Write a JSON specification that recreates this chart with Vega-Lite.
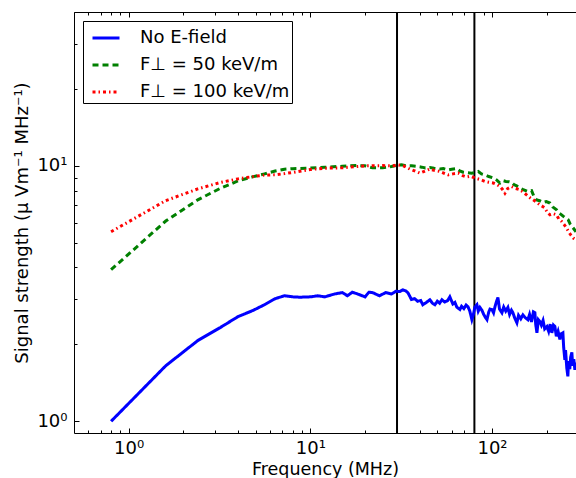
{
  "$schema": "https://vega.github.io/schema/vega-lite/v6.json",
  "width": 502,
  "height": 421,
  "autosize": {"type": "none"},
  "padding": {"left": 74, "top": 12, "right": 0, "bottom": 45},
  "config": {
    "font": "DejaVu Sans",
    "view": {"stroke": null},
    "axis": {"grid": false, "domainColor": "#000000", "tickColor": "#000000", "labelColor": "#000000", "titleColor": "#000000", "labelFontSize": 18, "titleFontSize": 18, "titleFontWeight": "normal", "labelFont": "DejaVu Sans", "titleFont": "DejaVu Sans", "tickWidth": 1, "domainWidth": 1}
  },
  "data": {"values": [
    {"f":0.8,"s":1.0,"c":"No E-field"},{"f":1.6,"s":1.65,"c":"No E-field"},{"f":2.4,"s":2.07,"c":"No E-field"},{"f":3.2,"s":2.33,"c":"No E-field"},{"f":4.0,"s":2.57,"c":"No E-field"},{"f":4.8,"s":2.71,"c":"No E-field"},{"f":5.6,"s":2.86,"c":"No E-field"},{"f":6.4,"s":3.02,"c":"No E-field"},{"f":7.2,"s":3.1,"c":"No E-field"},{"f":8.0,"s":3.07,"c":"No E-field"},{"f":8.8,"s":3.06,"c":"No E-field"},{"f":10,"s":3.07,"c":"No E-field"},{"f":11,"s":3.1,"c":"No E-field"},{"f":12,"s":3.07,"c":"No E-field"},{"f":13.6,"s":3.15,"c":"No E-field"},{"f":15,"s":3.19,"c":"No E-field"},{"f":16,"s":3.1,"c":"No E-field"},{"f":17,"s":3.2,"c":"No E-field"},{"f":18,"s":3.16,"c":"No E-field"},{"f":20,"s":3.07,"c":"No E-field"},{"f":21,"s":3.2,"c":"No E-field"},{"f":22,"s":3.19,"c":"No E-field"},{"f":24,"s":3.1,"c":"No E-field"},{"f":26,"s":3.19,"c":"No E-field"},{"f":28,"s":3.15,"c":"No E-field"},{"f":29.6,"s":3.23,"c":"No E-field"},{"f":31,"s":3.22,"c":"No E-field"},{"f":32.3,"s":3.27,"c":"No E-field"},{"f":33.5,"s":3.24,"c":"No E-field"},{"f":34.5,"s":3.18,"c":"No E-field"},{"f":36,"s":3.0,"c":"No E-field"},{"f":37.5,"s":3.02,"c":"No E-field"},{"f":39,"s":2.95,"c":"No E-field"},{"f":40.5,"s":2.97,"c":"No E-field"},{"f":41.6,"s":2.86,"c":"No E-field"},{"f":43.5,"s":2.92,"c":"No E-field"},{"f":45.5,"s":2.99,"c":"No E-field"},{"f":47,"s":2.9,"c":"No E-field"},{"f":48.5,"s":2.86,"c":"No E-field"},{"f":50,"s":2.95,"c":"No E-field"},{"f":51.5,"s":2.9,"c":"No E-field"},{"f":53,"s":2.99,"c":"No E-field"},{"f":55,"s":2.93,"c":"No E-field"},{"f":57,"s":2.97,"c":"No E-field"},{"f":58.6,"s":3.07,"c":"No E-field"},{"f":60,"s":2.95,"c":"No E-field"},{"f":60.9,"s":2.88,"c":"No E-field"},{"f":62.5,"s":2.92,"c":"No E-field"},{"f":64,"s":2.8,"c":"No E-field"},{"f":66.6,"s":2.74,"c":"No E-field"},{"f":68,"s":2.82,"c":"No E-field"},{"f":70,"s":2.76,"c":"No E-field"},{"f":72,"s":2.85,"c":"No E-field"},{"f":73.7,"s":2.81,"c":"No E-field"},{"f":75.5,"s":2.7,"c":"No E-field"},{"f":77.5,"s":2.5,"c":"No E-field"},{"f":79,"s":2.62,"c":"No E-field"},{"f":80.5,"s":2.8,"c":"No E-field"},{"f":82.6,"s":2.86,"c":"No E-field"},{"f":84,"s":2.7,"c":"No E-field"},{"f":85.8,"s":2.79,"c":"No E-field"},{"f":88,"s":2.72,"c":"No E-field"},{"f":90,"s":2.62,"c":"No E-field"},{"f":92,"s":2.55,"c":"No E-field"},{"f":93.8,"s":2.5,"c":"No E-field"},{"f":96,"s":2.68,"c":"No E-field"},{"f":97.5,"s":2.75,"c":"No E-field"},{"f":99.9,"s":2.74,"c":"No E-field"},{"f":102,"s":2.66,"c":"No E-field"},{"f":104,"s":2.82,"c":"No E-field"},{"f":106,"s":2.95,"c":"No E-field"},{"f":107.8,"s":3.05,"c":"No E-field"},{"f":110,"s":2.75,"c":"No E-field"},{"f":113.4,"s":2.66,"c":"No E-field"},{"f":116,"s":2.8,"c":"No E-field"},{"f":119,"s":2.7,"c":"No E-field"},{"f":122.3,"s":2.79,"c":"No E-field"},{"f":125,"s":2.62,"c":"No E-field"},{"f":128,"s":2.72,"c":"No E-field"},{"f":130.4,"s":2.66,"c":"No E-field"},{"f":133,"s":2.55,"c":"No E-field"},{"f":137.1,"s":2.43,"c":"No E-field"},{"f":140,"s":2.6,"c":"No E-field"},{"f":144,"s":2.52,"c":"No E-field"},{"f":148,"s":2.61,"c":"No E-field"},{"f":152,"s":2.55,"c":"No E-field"},{"f":157.6,"s":2.5,"c":"No E-field"},{"f":161,"s":2.62,"c":"No E-field"},{"f":165,"s":2.45,"c":"No E-field"},{"f":169,"s":2.68,"c":"No E-field"},{"f":172.2,"s":2.66,"c":"No E-field"},{"f":174,"s":2.4,"c":"No E-field"},{"f":176.7,"s":2.22,"c":"No E-field"},{"f":180,"s":2.5,"c":"No E-field"},{"f":183.5,"s":2.46,"c":"No E-field"},{"f":187,"s":2.38,"c":"No E-field"},{"f":191,"s":2.48,"c":"No E-field"},{"f":195,"s":2.3,"c":"No E-field"},{"f":200.6,"s":2.35,"c":"No E-field"},{"f":205,"s":2.25,"c":"No E-field"},{"f":209,"s":2.4,"c":"No E-field"},{"f":213.6,"s":2.22,"c":"No E-field"},{"f":218,"s":2.38,"c":"No E-field"},{"f":221.9,"s":2.35,"c":"No E-field"},{"f":226,"s":2.15,"c":"No E-field"},{"f":231,"s":2.25,"c":"No E-field"},{"f":236.4,"s":2.09,"c":"No E-field"},{"f":240,"s":2.2,"c":"No E-field"},{"f":245.6,"s":2.22,"c":"No E-field"},{"f":248,"s":1.95,"c":"No E-field"},{"f":251.8,"s":1.74,"c":"No E-field"},{"f":254,"s":1.9,"c":"No E-field"},{"f":258,"s":1.62,"c":"No E-field"},{"f":261.6,"s":1.5,"c":"No E-field"},{"f":264,"s":1.72,"c":"No E-field"},{"f":268,"s":1.6,"c":"No E-field"},{"f":271,"s":1.78,"c":"No E-field"},{"f":275.2,"s":1.86,"c":"No E-field"},{"f":278,"s":1.65,"c":"No E-field"},{"f":282,"s":1.75,"c":"No E-field"},{"f":285.9,"s":1.59,"c":"No E-field"},{"f":290,"s":1.7,"c":"No E-field"},

    {"f":0.8,"s":3.92,"c":"F⊥ = 50 keV/m"},{"f":1.6,"s":6.08,"c":"F⊥ = 50 keV/m"},{"f":2.4,"s":7.36,"c":"F⊥ = 50 keV/m"},{"f":3.2,"s":8.17,"c":"F⊥ = 50 keV/m"},{"f":4.0,"s":8.73,"c":"F⊥ = 50 keV/m"},{"f":4.8,"s":9.05,"c":"F⊥ = 50 keV/m"},{"f":5.6,"s":9.3,"c":"F⊥ = 50 keV/m"},{"f":6.4,"s":9.54,"c":"F⊥ = 50 keV/m"},{"f":7.2,"s":9.7,"c":"F⊥ = 50 keV/m"},{"f":8.0,"s":9.75,"c":"F⊥ = 50 keV/m"},{"f":10,"s":9.8,"c":"F⊥ = 50 keV/m"},{"f":12,"s":9.87,"c":"F⊥ = 50 keV/m"},{"f":15,"s":9.96,"c":"F⊥ = 50 keV/m"},{"f":18,"s":10.03,"c":"F⊥ = 50 keV/m"},{"f":20,"s":10.0,"c":"F⊥ = 50 keV/m"},{"f":22,"s":9.82,"c":"F⊥ = 50 keV/m"},{"f":25,"s":9.82,"c":"F⊥ = 50 keV/m"},{"f":28,"s":9.94,"c":"F⊥ = 50 keV/m"},{"f":30,"s":10.05,"c":"F⊥ = 50 keV/m"},{"f":31.8,"s":10.09,"c":"F⊥ = 50 keV/m"},{"f":34,"s":10.0,"c":"F⊥ = 50 keV/m"},{"f":36.1,"s":10.0,"c":"F⊥ = 50 keV/m"},{"f":38.5,"s":9.95,"c":"F⊥ = 50 keV/m"},{"f":41,"s":9.88,"c":"F⊥ = 50 keV/m"},{"f":43,"s":9.8,"c":"F⊥ = 50 keV/m"},{"f":45.5,"s":9.85,"c":"F⊥ = 50 keV/m"},{"f":48,"s":9.78,"c":"F⊥ = 50 keV/m"},{"f":51.7,"s":9.71,"c":"F⊥ = 50 keV/m"},{"f":54,"s":9.75,"c":"F⊥ = 50 keV/m"},{"f":57.4,"s":9.64,"c":"F⊥ = 50 keV/m"},{"f":60,"s":9.7,"c":"F⊥ = 50 keV/m"},{"f":63.9,"s":9.76,"c":"F⊥ = 50 keV/m"},{"f":66.5,"s":9.55,"c":"F⊥ = 50 keV/m"},{"f":69.4,"s":9.44,"c":"F⊥ = 50 keV/m"},{"f":73,"s":9.4,"c":"F⊥ = 50 keV/m"},{"f":77.3,"s":9.36,"c":"F⊥ = 50 keV/m"},{"f":80.5,"s":9.42,"c":"F⊥ = 50 keV/m"},{"f":84,"s":9.5,"c":"F⊥ = 50 keV/m"},{"f":87.5,"s":9.3,"c":"F⊥ = 50 keV/m"},{"f":91.4,"s":9.22,"c":"F⊥ = 50 keV/m"},{"f":96,"s":9.08,"c":"F⊥ = 50 keV/m"},{"f":101.6,"s":8.96,"c":"F⊥ = 50 keV/m"},{"f":106,"s":8.8,"c":"F⊥ = 50 keV/m"},{"f":110.6,"s":8.56,"c":"F⊥ = 50 keV/m"},{"f":115,"s":8.75,"c":"F⊥ = 50 keV/m"},{"f":119.2,"s":8.69,"c":"F⊥ = 50 keV/m"},{"f":124,"s":8.66,"c":"F⊥ = 50 keV/m"},{"f":128.2,"s":8.61,"c":"F⊥ = 50 keV/m"},{"f":132,"s":8.45,"c":"F⊥ = 50 keV/m"},{"f":136.6,"s":8.35,"c":"F⊥ = 50 keV/m"},{"f":142,"s":8.2,"c":"F⊥ = 50 keV/m"},{"f":148.5,"s":8.06,"c":"F⊥ = 50 keV/m"},{"f":156,"s":7.95,"c":"F⊥ = 50 keV/m"},{"f":165.2,"s":8.0,"c":"F⊥ = 50 keV/m"},{"f":170,"s":7.6,"c":"F⊥ = 50 keV/m"},{"f":176,"s":7.36,"c":"F⊥ = 50 keV/m"},{"f":183,"s":7.3,"c":"F⊥ = 50 keV/m"},{"f":191.3,"s":7.19,"c":"F⊥ = 50 keV/m"},{"f":199,"s":7.25,"c":"F⊥ = 50 keV/m"},{"f":208.4,"s":7.15,"c":"F⊥ = 50 keV/m"},{"f":216,"s":6.9,"c":"F⊥ = 50 keV/m"},{"f":226.7,"s":6.73,"c":"F⊥ = 50 keV/m"},{"f":233,"s":6.55,"c":"F⊥ = 50 keV/m"},{"f":241.6,"s":6.43,"c":"F⊥ = 50 keV/m"},{"f":250,"s":6.3,"c":"F⊥ = 50 keV/m"},{"f":262.7,"s":6.15,"c":"F⊥ = 50 keV/m"},{"f":270,"s":5.9,"c":"F⊥ = 50 keV/m"},{"f":279.9,"s":5.71,"c":"F⊥ = 50 keV/m"},{"f":290,"s":5.52,"c":"F⊥ = 50 keV/m"},

    {"f":0.8,"s":5.52,"c":"F⊥ = 100 keV/m"},{"f":1.6,"s":7.31,"c":"F⊥ = 100 keV/m"},{"f":2.4,"s":8.12,"c":"F⊥ = 100 keV/m"},{"f":3.2,"s":8.61,"c":"F⊥ = 100 keV/m"},{"f":4.0,"s":8.89,"c":"F⊥ = 100 keV/m"},{"f":4.8,"s":9.07,"c":"F⊥ = 100 keV/m"},{"f":5.6,"s":9.2,"c":"F⊥ = 100 keV/m"},{"f":6.4,"s":9.22,"c":"F⊥ = 100 keV/m"},{"f":7.2,"s":9.32,"c":"F⊥ = 100 keV/m"},{"f":8.0,"s":9.42,"c":"F⊥ = 100 keV/m"},{"f":10,"s":9.67,"c":"F⊥ = 100 keV/m"},{"f":12,"s":9.79,"c":"F⊥ = 100 keV/m"},{"f":15,"s":9.82,"c":"F⊥ = 100 keV/m"},{"f":20,"s":10.0,"c":"F⊥ = 100 keV/m"},{"f":25,"s":10.02,"c":"F⊥ = 100 keV/m"},{"f":28.6,"s":10.0,"c":"F⊥ = 100 keV/m"},{"f":30,"s":10.09,"c":"F⊥ = 100 keV/m"},{"f":32.5,"s":10.0,"c":"F⊥ = 100 keV/m"},{"f":35.3,"s":9.71,"c":"F⊥ = 100 keV/m"},{"f":37.5,"s":9.55,"c":"F⊥ = 100 keV/m"},{"f":40.1,"s":9.36,"c":"F⊥ = 100 keV/m"},{"f":43,"s":9.55,"c":"F⊥ = 100 keV/m"},{"f":45.5,"s":9.71,"c":"F⊥ = 100 keV/m"},{"f":48,"s":9.6,"c":"F⊥ = 100 keV/m"},{"f":51.7,"s":9.5,"c":"F⊥ = 100 keV/m"},{"f":54.5,"s":9.35,"c":"F⊥ = 100 keV/m"},{"f":57.4,"s":9.22,"c":"F⊥ = 100 keV/m"},{"f":61,"s":9.3,"c":"F⊥ = 100 keV/m"},{"f":65.2,"s":9.36,"c":"F⊥ = 100 keV/m"},{"f":69,"s":9.15,"c":"F⊥ = 100 keV/m"},{"f":72.5,"s":9.04,"c":"F⊥ = 100 keV/m"},{"f":76.5,"s":9.1,"c":"F⊥ = 100 keV/m"},{"f":80.5,"s":8.96,"c":"F⊥ = 100 keV/m"},{"f":85.5,"s":8.85,"c":"F⊥ = 100 keV/m"},{"f":91.4,"s":8.69,"c":"F⊥ = 100 keV/m"},{"f":96,"s":8.62,"c":"F⊥ = 100 keV/m"},{"f":101.6,"s":8.56,"c":"F⊥ = 100 keV/m"},{"f":106,"s":8.45,"c":"F⊥ = 100 keV/m"},{"f":110.6,"s":8.3,"c":"F⊥ = 100 keV/m"},{"f":114,"s":8.1,"c":"F⊥ = 100 keV/m"},{"f":117.8,"s":7.82,"c":"F⊥ = 100 keV/m"},{"f":122,"s":8.15,"c":"F⊥ = 100 keV/m"},{"f":128.2,"s":8.3,"c":"F⊥ = 100 keV/m"},{"f":135,"s":8.15,"c":"F⊥ = 100 keV/m"},{"f":142.4,"s":8.06,"c":"F⊥ = 100 keV/m"},{"f":148,"s":7.9,"c":"F⊥ = 100 keV/m"},{"f":155,"s":7.7,"c":"F⊥ = 100 keV/m"},{"f":162,"s":7.5,"c":"F⊥ = 100 keV/m"},{"f":168.6,"s":7.36,"c":"F⊥ = 100 keV/m"},{"f":176,"s":7.2,"c":"F⊥ = 100 keV/m"},{"f":183.5,"s":7.04,"c":"F⊥ = 100 keV/m"},{"f":189,"s":6.95,"c":"F⊥ = 100 keV/m"},{"f":195.5,"s":6.84,"c":"F⊥ = 100 keV/m"},{"f":201,"s":6.6,"c":"F⊥ = 100 keV/m"},{"f":208.4,"s":6.43,"c":"F⊥ = 100 keV/m"},{"f":217,"s":6.5,"c":"F⊥ = 100 keV/m"},{"f":226.7,"s":6.43,"c":"F⊥ = 100 keV/m"},{"f":233,"s":6.2,"c":"F⊥ = 100 keV/m"},{"f":241.6,"s":6.06,"c":"F⊥ = 100 keV/m"},{"f":249,"s":5.9,"c":"F⊥ = 100 keV/m"},{"f":257.1,"s":5.71,"c":"F⊥ = 100 keV/m"},{"f":265,"s":5.5,"c":"F⊥ = 100 keV/m"},{"f":272,"s":5.35,"c":"F⊥ = 100 keV/m"},{"f":279.9,"s":5.22,"c":"F⊥ = 100 keV/m"},{"f":290,"s":5.15,"c":"F⊥ = 100 keV/m"}
  ]},
  "layer": [
    {
      "data": {"values": [{"f": 30}, {"f": 80}]},
      "mark": {"type": "rule", "color": "#000000", "strokeWidth": 2},
      "encoding": {
        "x": {"field": "f", "type": "quantitative",
          "scale": {"type": "log", "domain": [0.5, 290], "nice": false},
          "axis": {"orient": "bottom", "values": [1, 10, 100], "labelExpr": "datum.value == 1 ? '10⁰' : datum.value == 10 ? '10¹' : '10²'", "ticks": false, "labelPadding": 6, "domain": true, "title": "Frequency (MHz)", "titlePadding": 3, "titleFontSize": 17.5}}
      }
    },
    {
      "mark": {"type": "line", "clip": true},
      "encoding": {
        "x": {"field": "f", "type": "quantitative",
          "scale": {"type": "log", "domain": [0.5, 290], "nice": false},
          "axis": {"orient": "top", "offset": -421, "values": [1, 10, 100], "labels": false, "tickSize": 5, "domain": false, "title": null}},
        "y": {"field": "s", "type": "quantitative",
          "scale": {"type": "log", "domain": [0.9, 40], "nice": false},
          "axis": {"orient": "left", "values": [1, 10], "labelExpr": "datum.value == 1 ? '10⁰' : '10¹'", "ticks": false, "labelPadding": 7, "domain": true, "title": "Signal strength (μ Vm⁻¹ MHz⁻¹)", "titlePadding": 5}},
        "color": {"field": "c", "type": "nominal",
          "scale": {"domain": ["No E-field", "F⊥ = 50 keV/m", "F⊥ = 100 keV/m"], "range": ["#0000ff", "#008000", "#ff0000"]},
          "legend": {"orient": "top-left", "offset": 9, "title": null, "strokeColor": "#000000", "fillColor": "#ffffff", "padding": 2, "rowPadding": 3, "symbolOffset": 6, "symbolType": "stroke", "symbolSize": 729, "symbolStrokeWidth": 3, "labelOffset": 19, "labelFontSize": 18, "labelFont": "DejaVu Sans", "labelColor": "#000000", "labelLimit": 400, "cornerRadius": 0}},
        "strokeDash": {"field": "c", "type": "nominal",
          "scale": {"domain": ["No E-field", "F⊥ = 50 keV/m", "F⊥ = 100 keV/m"], "range": [[1, 0], [6, 4], [3, 3, 1.5, 3]]},
          "legend": {"orient": "top-left", "offset": 9, "title": null, "strokeColor": "#000000", "fillColor": "#ffffff", "padding": 2, "rowPadding": 3, "symbolOffset": 6, "symbolType": "stroke", "symbolSize": 729, "symbolStrokeWidth": 3, "labelOffset": 19, "labelFontSize": 18, "labelFont": "DejaVu Sans", "labelColor": "#000000", "labelLimit": 400, "cornerRadius": 0}},
        "strokeWidth": {"field": "c", "type": "nominal",
          "scale": {"domain": ["No E-field", "F⊥ = 50 keV/m", "F⊥ = 100 keV/m"], "range": [3, 3, 2.5]},
          "legend": null}
      }
    },
    {
      "mark": {"type": "point", "opacity": 0},
      "encoding": {
        "x": {"field": "f", "type": "quantitative",
          "scale": {"type": "log", "domain": [0.5, 290], "nice": false},
          "axis": {"orient": "top", "offset": -421, "values": [0.6, 0.7, 0.8, 0.9, 2, 3, 4, 5, 6, 7, 8, 9, 20, 30, 40, 50, 60, 70, 80, 90, 200], "labels": false, "tickSize": 3, "domain": false, "title": null}},
        "y": {"field": "s", "type": "quantitative",
          "scale": {"type": "log", "domain": [0.9, 40], "nice": false},
          "axis": {"orient": "right", "offset": -502, "values": [1, 10], "labels": false, "tickSize": 5, "domain": false, "title": null}}
      }
    },
    {
      "mark": {"type": "point", "opacity": 0},
      "encoding": {
        "x": {"field": "f", "type": "quantitative",
          "scale": {"type": "log", "domain": [0.5, 290], "nice": false},
          "axis": {"orient": "bottom", "offset": -421, "values": [1, 10, 100], "labels": false, "tickSize": 5, "domain": true, "title": null}},
        "y": {"field": "s", "type": "quantitative",
          "scale": {"type": "log", "domain": [0.9, 40], "nice": false},
          "axis": {"orient": "right", "offset": -502, "values": [2, 3, 4, 5, 6, 7, 8, 9, 20, 30, 40], "labels": false, "tickSize": 3, "domain": false, "title": null}}
      }
    },
    {
      "mark": {"type": "point", "opacity": 0},
      "encoding": {
        "x": {"field": "f", "type": "quantitative",
          "scale": {"type": "log", "domain": [0.5, 290], "nice": false},
          "axis": {"orient": "bottom", "offset": -421, "values": [0.6, 0.7, 0.8, 0.9, 2, 3, 4, 5, 6, 7, 8, 9, 20, 30, 40, 50, 60, 70, 80, 90, 200], "labels": false, "tickSize": 3, "domain": false, "title": null}},
        "y": {"field": "s", "type": "quantitative",
          "scale": {"type": "log", "domain": [0.9, 40], "nice": false},
          "axis": null}
      }
    }
  ],
  "resolve": {"axis": {"x": "independent", "y": "independent"}}
}
